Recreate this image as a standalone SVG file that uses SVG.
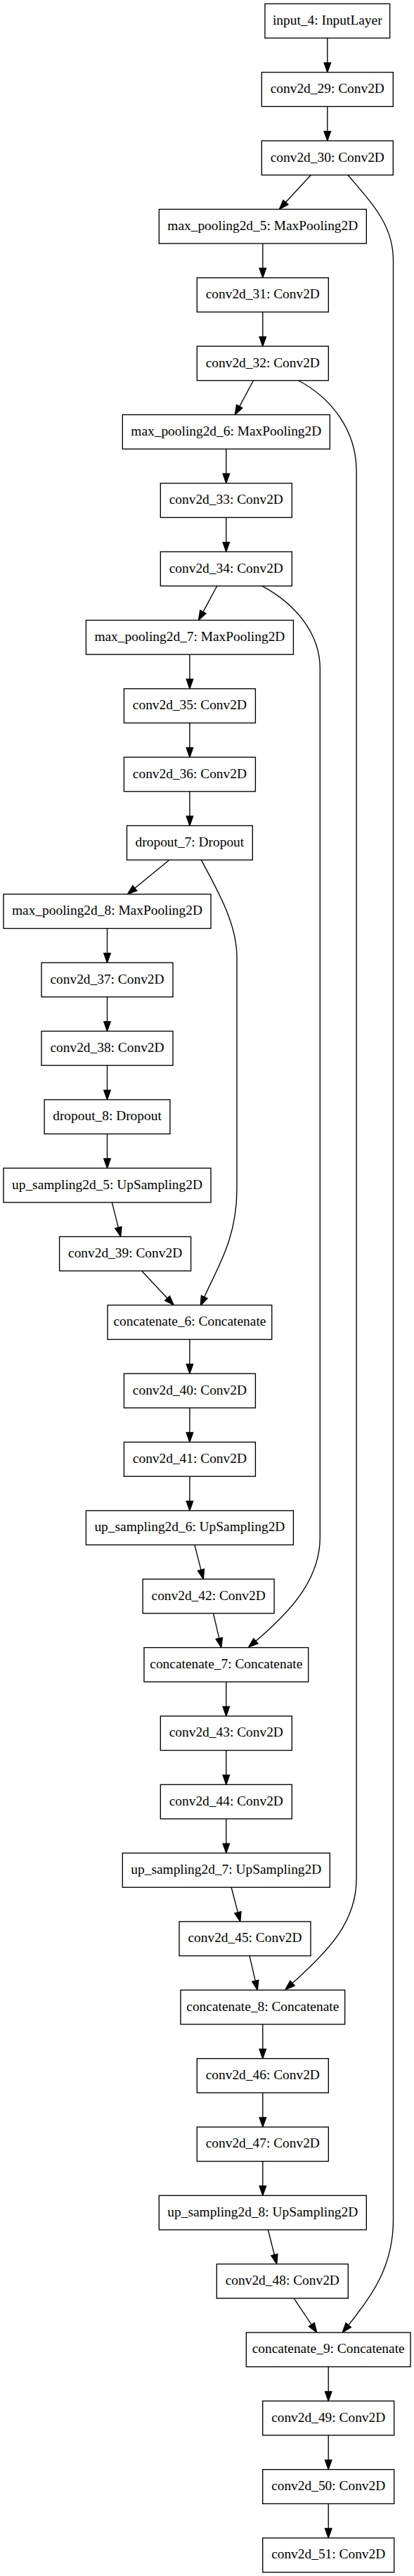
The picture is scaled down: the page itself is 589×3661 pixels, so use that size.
<svg xmlns="http://www.w3.org/2000/svg" width="589" height="3661" viewBox="0 0 589 3661">
<style>
.n rect{fill:#fff;stroke:#000;stroke-width:1.35}
.n text{font-family:"Liberation Serif","Times New Roman",serif;font-size:19.4px;text-anchor:middle;fill:#000}
#edges path{fill:none;stroke:#000;stroke-width:1.35;marker-end:url(#ah)}
</style>
<defs>
<marker id="ah" markerUnits="userSpaceOnUse" viewBox="-1 -6 16 12" markerWidth="16" markerHeight="12" refX="0" refY="0" orient="auto" overflow="visible">
<path d="M0,-4.73 L13.5,0 L0,4.73 Z" fill="#000" stroke="#000" stroke-width="1.35"/>
</marker>
</defs>
<rect x="0" y="0" width="589" height="3661" fill="#fff"/>
<g id="edges">
<path d="M465.8,54.07 L465.8,89.24"/>
<path d="M465.8,151.41 L465.8,186.58"/>
<path d="M442.3,248.75 L406.47,287.51"/>
<path d="M495,248.75 C530,290 559.5,320 559.5,370 L559.5,3155 C559.5,3220 530,3262 495.7,3304.4"/>
<path d="M373.8,346.09 L373.8,381.26"/>
<path d="M373.8,443.43 L373.8,478.6"/>
<path d="M360.6,540.77 L340.72,577.56"/>
<path d="M424.5,540.77 C470,565 507.1,610 507.1,670 L507.1,2670 C507.1,2730 470,2770 416,2818.6"/>
<path d="M321.8,638.11 L321.8,673.28"/>
<path d="M321.8,735.45 L321.8,770.62"/>
<path d="M308.8,832.79 L288.92,869.58"/>
<path d="M373,832.79 C420,858 455.3,900 455.3,950 L455.3,2185 C455.3,2240 420,2285 363.9,2332.2"/>
<path d="M269.9,930.13 L269.9,965.3"/>
<path d="M269.9,1027.47 L269.9,1062.64"/>
<path d="M269.9,1124.81 L269.9,1159.98"/>
<path d="M240.8,1222.15 L191.84,1262.26"/>
<path d="M286.3,1222.15 C306,1260 337,1310 337,1360 L337,1690 C337,1760 310,1800 290.7,1843.3"/>
<path d="M152.5,1319.49 L152.5,1354.66"/>
<path d="M152.5,1416.83 L152.5,1452"/>
<path d="M152.5,1514.17 L152.5,1549.34"/>
<path d="M152.5,1611.51 L152.5,1646.68"/>
<path d="M159.3,1708.85 L168.37,1744.44"/>
<path d="M201.7,1806.19 L237.98,1845"/>
<path d="M269.9,1903.53 L269.9,1938.7"/>
<path d="M269.9,2000.87 L269.9,2036.04"/>
<path d="M269.9,2098.21 L269.9,2133.38"/>
<path d="M276.9,2195.55 L285.97,2231.14"/>
<path d="M303.5,2292.89 L311.75,2328.41"/>
<path d="M321.8,2390.23 L321.8,2425.4"/>
<path d="M321.8,2487.57 L321.8,2522.74"/>
<path d="M321.8,2584.91 L321.8,2620.08"/>
<path d="M329.1,2682.25 L338.39,2717.86"/>
<path d="M355,2779.59 L363.25,2815.11"/>
<path d="M373.8,2876.93 L373.8,2912.1"/>
<path d="M373.8,2974.27 L373.8,3009.44"/>
<path d="M373.8,3071.61 L373.8,3106.78"/>
<path d="M381.3,3168.95 L390.37,3204.54"/>
<path d="M418.1,3266.29 L443.27,3303.76"/>
<path d="M467.2,3363.63 L467.2,3398.8"/>
<path d="M467.2,3460.97 L467.2,3496.14"/>
<path d="M467.2,3558.31 L467.2,3593.48"/>
</g>
<g id="input_4" class="n"><rect x="376.95" y="5.4" width="177.7" height="48.67"/><text x="465.8" y="34.9">input_4: InputLayer</text></g>
<g id="conv2d_29" class="n"><rect x="372.3" y="102.74" width="187" height="48.67"/><text x="465.8" y="132.24">conv2d_29: Conv2D</text></g>
<g id="conv2d_30" class="n"><rect x="372.3" y="200.08" width="187" height="48.67"/><text x="465.8" y="229.58">conv2d_30: Conv2D</text></g>
<g id="max_pooling2d_5" class="n"><rect x="226.3" y="297.42" width="295" height="48.67"/><text x="373.8" y="326.92">max_pooling2d_5: MaxPooling2D</text></g>
<g id="conv2d_31" class="n"><rect x="280.3" y="394.76" width="187" height="48.67"/><text x="373.8" y="424.26">conv2d_31: Conv2D</text></g>
<g id="conv2d_32" class="n"><rect x="280.3" y="492.1" width="187" height="48.67"/><text x="373.8" y="521.6">conv2d_32: Conv2D</text></g>
<g id="max_pooling2d_6" class="n"><rect x="174.3" y="589.44" width="295" height="48.67"/><text x="321.8" y="618.94">max_pooling2d_6: MaxPooling2D</text></g>
<g id="conv2d_33" class="n"><rect x="228.3" y="686.78" width="187" height="48.67"/><text x="321.8" y="716.28">conv2d_33: Conv2D</text></g>
<g id="conv2d_34" class="n"><rect x="228.3" y="784.12" width="187" height="48.67"/><text x="321.8" y="813.62">conv2d_34: Conv2D</text></g>
<g id="max_pooling2d_7" class="n"><rect x="122.4" y="881.46" width="295" height="48.67"/><text x="269.9" y="910.96">max_pooling2d_7: MaxPooling2D</text></g>
<g id="conv2d_35" class="n"><rect x="176.4" y="978.8" width="187" height="48.67"/><text x="269.9" y="1008.3">conv2d_35: Conv2D</text></g>
<g id="conv2d_36" class="n"><rect x="176.4" y="1076.14" width="187" height="48.67"/><text x="269.9" y="1105.64">conv2d_36: Conv2D</text></g>
<g id="dropout_7" class="n"><rect x="180.5" y="1173.48" width="178.8" height="48.67"/><text x="269.9" y="1202.98">dropout_7: Dropout</text></g>
<g id="max_pooling2d_8" class="n"><rect x="5" y="1270.82" width="295" height="48.67"/><text x="152.5" y="1300.32">max_pooling2d_8: MaxPooling2D</text></g>
<g id="conv2d_37" class="n"><rect x="59" y="1368.16" width="187" height="48.67"/><text x="152.5" y="1397.66">conv2d_37: Conv2D</text></g>
<g id="conv2d_38" class="n"><rect x="59" y="1465.5" width="187" height="48.67"/><text x="152.5" y="1495">conv2d_38: Conv2D</text></g>
<g id="dropout_8" class="n"><rect x="63.1" y="1562.84" width="178.8" height="48.67"/><text x="152.5" y="1592.34">dropout_8: Dropout</text></g>
<g id="up_sampling2d_5" class="n"><rect x="5" y="1660.18" width="295" height="48.67"/><text x="152.5" y="1689.68">up_sampling2d_5: UpSampling2D</text></g>
<g id="conv2d_39" class="n"><rect x="84.6" y="1757.52" width="187" height="48.67"/><text x="178.1" y="1787.02">conv2d_39: Conv2D</text></g>
<g id="concatenate_6" class="n"><rect x="153.05" y="1854.86" width="233.7" height="48.67"/><text x="269.9" y="1884.36">concatenate_6: Concatenate</text></g>
<g id="conv2d_40" class="n"><rect x="176.4" y="1952.2" width="187" height="48.67"/><text x="269.9" y="1981.7">conv2d_40: Conv2D</text></g>
<g id="conv2d_41" class="n"><rect x="176.4" y="2049.54" width="187" height="48.67"/><text x="269.9" y="2079.04">conv2d_41: Conv2D</text></g>
<g id="up_sampling2d_6" class="n"><rect x="122.4" y="2146.88" width="295" height="48.67"/><text x="269.9" y="2176.38">up_sampling2d_6: UpSampling2D</text></g>
<g id="conv2d_42" class="n"><rect x="203.1" y="2244.22" width="187" height="48.67"/><text x="296.6" y="2273.72">conv2d_42: Conv2D</text></g>
<g id="concatenate_7" class="n"><rect x="204.95" y="2341.56" width="233.7" height="48.67"/><text x="321.8" y="2371.06">concatenate_7: Concatenate</text></g>
<g id="conv2d_43" class="n"><rect x="228.3" y="2438.9" width="187" height="48.67"/><text x="321.8" y="2468.4">conv2d_43: Conv2D</text></g>
<g id="conv2d_44" class="n"><rect x="228.3" y="2536.24" width="187" height="48.67"/><text x="321.8" y="2565.74">conv2d_44: Conv2D</text></g>
<g id="up_sampling2d_7" class="n"><rect x="174.3" y="2633.58" width="295" height="48.67"/><text x="321.8" y="2663.08">up_sampling2d_7: UpSampling2D</text></g>
<g id="conv2d_45" class="n"><rect x="255" y="2730.92" width="187" height="48.67"/><text x="348.5" y="2760.42">conv2d_45: Conv2D</text></g>
<g id="concatenate_8" class="n"><rect x="256.95" y="2828.26" width="233.7" height="48.67"/><text x="373.8" y="2857.76">concatenate_8: Concatenate</text></g>
<g id="conv2d_46" class="n"><rect x="280.3" y="2925.6" width="187" height="48.67"/><text x="373.8" y="2955.1">conv2d_46: Conv2D</text></g>
<g id="conv2d_47" class="n"><rect x="280.3" y="3022.94" width="187" height="48.67"/><text x="373.8" y="3052.44">conv2d_47: Conv2D</text></g>
<g id="up_sampling2d_8" class="n"><rect x="226.3" y="3120.28" width="295" height="48.67"/><text x="373.8" y="3149.78">up_sampling2d_8: UpSampling2D</text></g>
<g id="conv2d_48" class="n"><rect x="308.3" y="3217.62" width="187" height="48.67"/><text x="401.8" y="3247.12">conv2d_48: Conv2D</text></g>
<g id="concatenate_9" class="n"><rect x="350.35" y="3314.96" width="233.7" height="48.67"/><text x="467.2" y="3344.46">concatenate_9: Concatenate</text></g>
<g id="conv2d_49" class="n"><rect x="373.7" y="3412.3" width="187" height="48.67"/><text x="467.2" y="3441.8">conv2d_49: Conv2D</text></g>
<g id="conv2d_50" class="n"><rect x="373.7" y="3509.64" width="187" height="48.67"/><text x="467.2" y="3539.14">conv2d_50: Conv2D</text></g>
<g id="conv2d_51" class="n"><rect x="373.7" y="3606.98" width="187" height="48.67"/><text x="467.2" y="3636.48">conv2d_51: Conv2D</text></g>
</svg>
